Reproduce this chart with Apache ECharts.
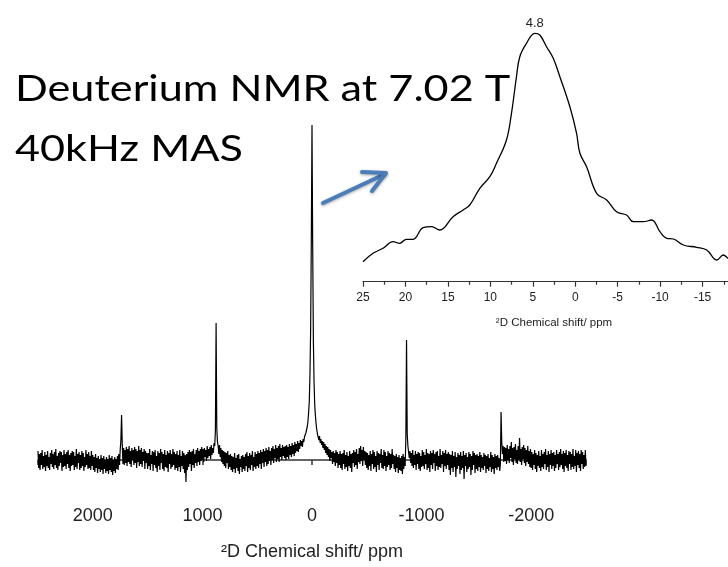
<!DOCTYPE html>
<html>
<head>
<meta charset="utf-8">
<script src="https://cdn.jsdelivr.net/npm/echarts@6/dist/echarts.min.js"></script>
<style>html,body{margin:0;padding:0;background:#fff}#c{width:728px;height:567px}</style>
</head>
<body>
<div id="c"></div>
<script>
// Main spectrum sampling (ppm of first sample and spacing between samples)
const mainPpmStart = 2500;
const mainPpmStep = -6.25;
// Main spectrum intensities (baseline = 0)
const mainIntensity = [
  9,-8,6,-10,7,-5,10,-9,4,-7, 8,-11,5,-6,9,-8,3,-10,7,-4, 10,-7,6,-9,8,-5,11,-8,4,-10, 7,-6,9,-3,8,-11,5,-7,10,-6,
  6,-9,8,-4,10,-8,5,-11,7,-6, 9,-5,8,-10,4,-7,11,-9,6,-3, 8,-10,5,-8,9,-6,7,-11,3,-7, 10,-5,6,-9,8,-8,4,-10,9,-6,
  5,-10,3,-12,6,-8,2,-13,4,-9, 1,-12,5,-10,2,-14,4,-9,0,-13, 3,-11,1,-14,5,-10,2,-12,4,-15, 0,-11,3,-13,1,-9,4,-10,6,-5,
  10,20,45,16,-4,12,-5,10,-3,13, -6,11,-2,14,-4,9,-7,12,0,10, -5,13,-3,11,-8,9,-2,14,-6,10, -4,12,-7,8,-1,11,-9,9,-3,7,
  -9,7,-6,11,-10,5,-4,9,-11,8, -5,10,-8,4,-12,9,-6,7,-10,11, -3,8,-9,6,-11,10,-7,5,-8,9, -12,7,-4,10,-9,6,-7,11,-5,8,
  -10,6,-8,9,-11,5,-7,10,-12,4, -6,9,-9,7,-13,5,-22,6,-10,8, -7,10,-4,8,-11,9,-5,11,-8,6, -3,10,-6,12,-2,9,-5,11,-1,13,
  0,11,-2,12,3,10,-1,14,2,11, 4,13,1,15,5,12,7,17,14,30, 137,32,18,14,6,15,3,12,-2,10, -4,9,-6,8,-8,7,-3,9,-9,5,
  -7,6,-10,4,-12,3,-9,7,-13,2, -8,5,-11,6,-14,1,-7,4,-12,5, -9,3,-11,6,-6,8,-12,4,-8,7, -10,5,-5,9,-11,3,-7,8,-9,6,
  -6,9,-8,7,-4,10,-9,8,-3,11, -7,9,-2,12,-6,10,-4,13,-1,9, -5,12,0,14,-3,11,2,15,-2,12, 1,14,-2,16,3,12,0,15,4,13,
  2,14,0,15,3,13,1,16,5,14, 3,17,6,15,4,18,7,16,9,19, 8,17,11,20,14,19,13,21,18,23, 24,27,28,33,38,47,58,85,130,220,
  335,215,120,78,55,44,36,30,26,23, 20,24,17,21,15,19,12,18,10,16, 7,14,5,13,3,11,-1,10,2,8, -4,9,-2,7,-6,10,-3,8,-8,6,
  -5,9,-8,6,-10,7,-4,10,-9,5, -7,8,-11,4,-6,9,-8,6,-12,7, -3,10,-7,8,-5,11,-9,6,-2,12, -4,14,-1,10,-6,13,0,9,-5,8,
  -8,7,-10,5,-6,9,-11,6,-4,10, -9,8,-7,4,-12,9,-5,7,-10,6, -3,11,-8,5,-9,10,-6,8,-11,4, -7,9,-5,7,-10,6,-8,11,-4,5,
  -9,4,-12,6,-8,3,-13,5,-10,2, -11,4,-14,6,-9,3,-6,22,120,26, 14,8,2,9,-3,7,-6,10,-8,5, -5,9,-10,6,-4,8,-9,7,-11,4,
  -7,10,-6,8,-9,5,-4,11,-10,7, -8,6,-12,9,-5,7,-9,10,-3,6, -11,8,-6,9,-10,4,-7,11,-8,5, -4,9,-12,7,-6,10,-9,6,-5,8,
  -10,6,-15,5,-8,9,-12,4,-7,8, -17,3,-9,7,-6,5,-14,8,-10,4, -8,9,-19,5,-6,7,-12,3,-9,8, -7,6,-15,4,-10,9,-5,7,-13,5,
  -9,6,-11,4,-7,8,-12,5,-8,3, -10,7,-6,5,-13,4,-9,6,-11,2, -7,8,-12,5,-9,3,-14,6,-8,4, -10,5,-7,2,-11,-4,48,18,6,14,
  -2,13,-1,12,-4,15,0,11,-3,14, 2,18,-2,12,-5,13,1,16,-3,10, -4,14,0,22,-2,11,-5,13,1,15, -3,12,-6,10,-2,14,-4,9,-7,11,
  -8,8,-10,6,-5,10,-9,7,-12,5, -6,9,-8,4,-11,10,-7,6,-9,8, -4,11,-10,5,-7,9,-12,6,-5,10, -9,7,-6,8,-11,5,-8,10,-4,6,
  -10,8,-7,11,-5,6,-9,9,-12,7, -6,10,-8,5,-11,9,-4,8,-10,6, -7,11,-9,4,-6,10,-12,7,-5,9, -8,6,-11,10,-4,8,-9,5,-7,10,
  -6
];
// Inset spectrum (ppm, intensity)
const insetPpm = [25.0,23.82,22.64,21.46,20.68,19.89,19.10,17.92,16.94,15.96,14.39,13.21,12.42,11.24,10.06,9.28,8.10,7.51,6.92,6.53,5.74,4.76,4.17,3.38,2.59,1.81,0.63,-0.16,-0.55,-1.34,-2.52,-3.70,-4.87,-6.05,-6.84,-8.02,-9.00,-9.98,-10.77,-11.56,-12.74,-14.31,-15.49,-16.67,-17.45,-18.0,-18.6];
const insetIntensity = [20,28.4,33.4,40,38.4,42.4,42.4,54,55,51.7,65,71.7,76.7,93.4,105,118.4,141.7,168.4,205,225,238.4,248.4,246.7,235,223.4,205,175,148.4,128.4,115,88.4,81.7,70,66.7,60,60,61.7,50,43.4,42.7,36.7,34.4,31.7,21.7,26.7,23.4,20];

const titleLines = ['Deuterium NMR at 7.02 T', '40kHz MAS'];
const axisTitle = '\u00B2D Chemical shift/ ppm';

const mainData = mainIntensity.map((v, i) => [mainPpmStart + mainPpmStep * i, v]);
const insetData = insetPpm.map((p, i) => [p, insetIntensity[i]]);
const peakIndex = insetIntensity.indexOf(Math.max(...insetIntensity));

const chart = echarts.init(document.getElementById('c'), null, {renderer: 'canvas'});
const axisFont = 'Liberation Sans, Arial, sans-serif';

chart.setOption({
  animation: false,
  backgroundColor: '#fff',
  grid: [
    {left: 38, width: 548, top: 120, height: 374, outerBoundsMode: 'none', containLabel: false},
    {left: 363, width: 382, top: 31.7, height: 250, outerBoundsMode: 'none', containLabel: false}
  ],
  xAxis: [
    {
      gridIndex: 0, type: 'value', min: -2500, max: 2500, interval: 500, inverse: true,
      axisLine: {show: true, lineStyle: {color: '#333', width: 1.5}},
      axisTick: {show: true, length: 5, lineStyle: {color: '#333', width: 1.5}},
      splitLine: {show: false},
      axisLabel: {
        color: '#222', fontSize: 18, fontFamily: axisFont, margin: 13,
        formatter: v => (v % 1000 === 0 && Math.abs(v) < 2500) ? String(v) : ''
      },
      name: axisTitle, nameLocation: 'middle', nameGap: 49,
      nameTextStyle: {color: '#222', fontSize: 18, fontFamily: axisFont}
    },
    {
      gridIndex: 1, type: 'value', min: -20, max: 25, interval: 5, inverse: true,
      axisLine: {show: true, lineStyle: {color: '#333', width: 1.2}},
      axisTick: {show: true, length: 5, lineStyle: {color: '#333', width: 1.2}},
      minorTick: {show: true, splitNumber: 2, length: 3, lineStyle: {color: '#333', width: 1.2}},
      splitLine: {show: false},
      axisLabel: {color: '#222', fontSize: 12, fontFamily: axisFont, margin: 10},
      name: axisTitle, nameLocation: 'middle', nameGap: 35,
      nameTextStyle: {color: '#222', fontSize: 11.5, fontFamily: axisFont}
    }
  ],
  yAxis: [
    {gridIndex: 0, type: 'value', min: -34, max: 340, show: false},
    {gridIndex: 1, type: 'value', min: 0, max: 250, show: false}
  ],
  series: [
    {
      type: 'line', xAxisIndex: 0, yAxisIndex: 0, data: mainData,
      showSymbol: false, symbol: 'none', sampling: null,
      lineStyle: {color: '#000', width: 1.2}
    },
    {
      type: 'line', xAxisIndex: 1, yAxisIndex: 1, data: insetData,
      showSymbol: false, symbol: 'none', smooth: 0.4,
      lineStyle: {color: '#000', width: 1.3},
      markPoint: {
        symbol: 'circle', symbolSize: 0,
        data: [{coord: [insetPpm[peakIndex], insetIntensity[peakIndex]]}],
        label: {
          show: true, position: 'top', distance: 3, color: '#222', fontSize: 13, fontFamily: axisFont,
          formatter: () => insetPpm[peakIndex].toFixed(1)
        }
      }
    }
  ],
  graphic: [
    {type: 'text', x: 15, y: 89, scaleX: 1.2, style: {text: titleLines[0], font: '36px Lato, sans-serif', fill: '#000', verticalAlign: 'middle'}},
    {type: 'text', x: 15, y: 149, scaleX: 1.2, style: {text: titleLines[1], font: '36px Lato, sans-serif', fill: '#000', verticalAlign: 'middle'}},
    {type: 'line', shape: {x1: 323, y1: 203, x2: 385, y2: 174}, style: {stroke: '#4a7ebb', lineWidth: 4, lineCap: 'round', shadowBlur: 3, shadowColor: 'rgba(0,0,0,0.35)', shadowOffsetY: 1}},
    {type: 'polyline', shape: {points: [[362, 172], [386, 173], [372, 191]]}, style: {stroke: '#4a7ebb', fill: null, lineWidth: 4, lineCap: 'round', lineJoin: 'round', shadowBlur: 3, shadowColor: 'rgba(0,0,0,0.35)', shadowOffsetY: 1}}
  ]
});
</script>
</body>
</html>
